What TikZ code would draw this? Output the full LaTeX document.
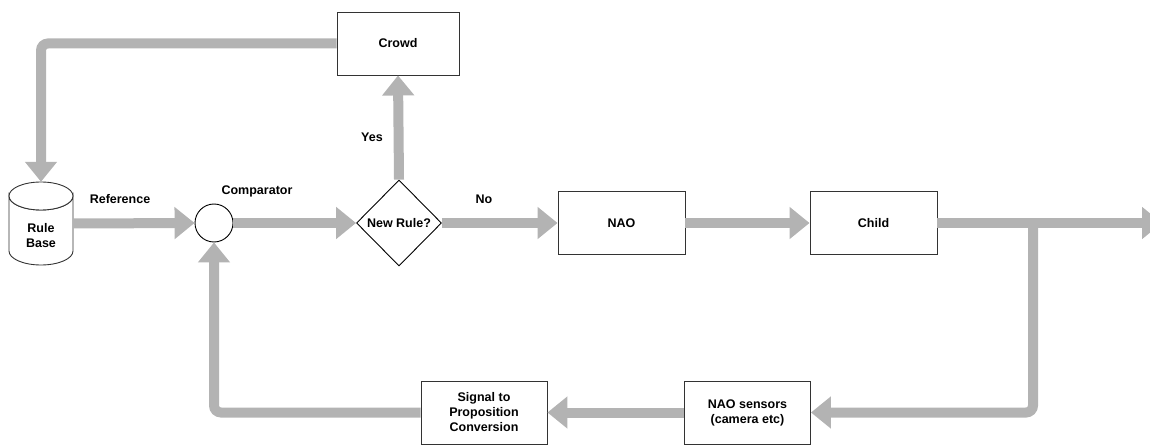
\documentclass[tikz,border=0pt]{standalone}
\usepackage{fontspec}
\setmainfont{Liberation Sans}
\usetikzlibrary{arrows.meta,shapes.geometric}
\definecolor{flow}{HTML}{B3B3B3}
\definecolor{edge}{HTML}{333333}
\tikzset{
  lbl/.style={font=\fontsize{12.5}{15}\selectfont\bfseries, inner sep=0pt, align=center},
  box/.style={lbl, draw=edge, line width=0.9pt, fill=white, minimum width=127pt, minimum height=63pt},
  sbox/.style={lbl, draw=edge, line width=0.9pt, fill=white, minimum width=126pt, minimum height=63pt},
  flowline/.style={draw=flow, line width=10pt, -{Triangle[length=20pt,width=31pt]}, rounded corners=7pt},
  cylline/.style={draw=edge, line width=0.9pt, fill=white},
}
\begin{document}
\begin{tikzpicture}[x=1pt,y=-1pt]
\useasboundingbox (0,0) rectangle (1150,446);
% nodes
\node[box, minimum width=122pt] (crowd) at (398,43.5) {Crowd};
\node[inner sep=0pt, minimum width=64pt, minimum height=83pt] (rb) at (41,223.5) {};
\draw[cylline] (9,196) -- (9,251) arc (180:0:32 and 14) -- (73,196) arc (0:180:32 and 14) -- cycle;
\draw[cylline] (41,196) ellipse (32 and 14);
\node[lbl] (rbt) at (41,236) {Rule\\Base};
\node[circle, draw=black, line width=0.9pt, fill=white, minimum size=38pt, inner sep=0pt] (comp) at (214,223) {};
\node[diamond, draw=black, line width=0.9pt, fill=white, minimum width=85pt, minimum height=86pt, inner sep=0pt, lbl] (dia) at (399,223) {New Rule?};
\node[box] (nao) at (621.5,223) {NAO};
\node[box] (child) at (873.5,223) {Child};
\node[sbox] (sens) at (747.5,412.5) {NAO sensors\\(camera etc)};
\node[sbox] (sig) at (484,412.5) {Signal to\\Proposition\\Conversion};
\coordinate (out) at (1162,223);
\coordinate (branch) at (1033,223);
% labels
\node[lbl] (lref) at (120,199) {Reference};
\node[lbl] (lcomp) at (257,191) {Comparator};
\node[lbl] (lyes) at (372,137) {Yes};
\node[lbl] (lno) at (484,199) {No};
% connectors
\draw[flowline] (crowd.west) -| (rb.north);
\draw[flowline] (rb.east) -- (comp.west);
\draw[flowline] (comp.east) -- (dia.west);
\draw[flowline] (dia.north) -- (crowd.south);
\draw[flowline] (dia.east) -- (nao.west);
\draw[flowline] (nao.east) -- (child.west);
\draw[flowline] (child.east) -- (out);
\draw[flowline] (branch) |- (sens.east);
\draw[flowline] (sens.west) -- (sig.east);
\draw[flowline] (sig.west) -| (comp.south);
\end{tikzpicture}
\end{document}
